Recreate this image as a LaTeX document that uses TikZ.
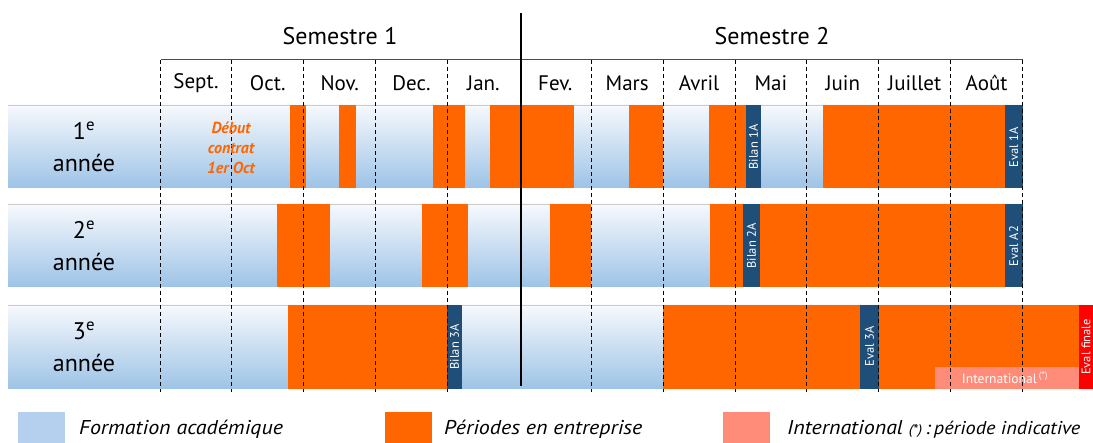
\documentclass[tikz,border=0pt]{standalone}
\usepackage{fontspec}
\setmainfont{PT Sans}
\newfontfamily\legendefont[FakeStretch=1.1]{PT Sans}
\usetikzlibrary{positioning}

\definecolor{entreprise}{HTML}{FF6600}
\definecolor{bilan}{HTML}{1F4E79}
\definecolor{bandhaut}{HTML}{F7F9FD}
\definecolor{bandbas}{HTML}{9DC3E6}
\definecolor{academique}{HTML}{B4D0EE}
\definecolor{international}{HTML}{FF8C78}
\definecolor{finale}{HTML}{FF0000}

\tikzset{
    semestre/.style={font=\fontsize{24}{24}\selectfont},
    mois/.style={font=\fontsize{21}{21}\selectfont},
    annee/.style={align=center, font=\fontsize{24}{32}\selectfont},
    jalon/.style={rotate=90, text=white, inner sep=0pt, font=\fontsize{12.5}{12.5}\selectfont},
    debut/.style={align=center, text=entreprise, font=\fontsize{16}{20}\selectfont\bfseries\itshape},
    legende/.style={anchor=west, inner sep=0pt, font=\legendefont\fontsize{20}{20}\selectfont\itshape},
}

\begin{document}
\begin{tikzpicture}[x=1pt, y=-1pt]
        \useasboundingbox (0,0) rectangle (1093,443);

        % bandes des trois annees
        \foreach \t/\b in {105/188, 204/287, 305/389}
        {
        \shade[top color=bandhaut, bottom color=bandbas] (8,\t) rectangle (1022.5,\b);
        \draw[black!20] (8,\t) -- (1022.5,\t);
        }

        % periodes en entreprise
        \foreach \g/\d/\t/\b in {290/306/105/188, 339/356/105/188, 433/465/105/188,
            490/574/105/188, 629/663/105/188, 709/746/105/188, 823/1005/105/188,
            277/330/204/287, 422/468/204/287, 550/591/204/287, 710/743/204/287,
            760/1005/204/287,
            288/447/305/389, 662.5/860/305/389, 879/1079/305/389}
        \fill[entreprise] (\g,\t) rectangle (\d,\b);

        % bilans et evaluations
        \foreach \g/\d/\t/\b in {746/761/105/188, 1005/1022.5/105/188,
            743/760/204/287, 1005/1022.5/204/287,
            447/462/305/389, 860/879/305/389}
        \fill[bilan] (\g,\t) rectangle (\d,\b);
        \fill[finale] (1079,305) rectangle (1093,389);
        \fill[international] (935,367) rectangle (1079,389);

        % en-tete
        \node[semestre] (semestre 1) at (340,36) {Semestre 1};
        \node[semestre] (semestre 2) at (772,36) {Semestre 2};
        \draw[black!70] (161,59) -- (1022.5,59);

        \foreach \m [count=\i] in {Sept., Oct., Nov., Dec., Jan., Fev., Mars, Avril, Mai, Juin, Juillet, Août}
        \node[mois] (mois \i) at ({160+71.875*(\i-0.5)},83) {\m};

        \foreach \i in {0,1,2,3,4,6,7,8,9,10,11,12}
        \draw[line width=0.8pt, dash pattern=on 4pt off 3pt] ({160+71.875*\i},60) -- ({160+71.875*\i},392);

        \coordinate (milieu haut) at (520.5,13);
        \coordinate (milieu bas) at (520.5,386);
        \draw[line width=2pt] (milieu haut) -- (milieu bas);

        % annees
        \node[annee] (annee 1) at (84,147) {1\textsuperscript{e}\\année};
        \node[annee] (annee 2) at (84,246) {2\textsuperscript{e}\\année};
        \node[annee] (annee 3) at (84,347) {3\textsuperscript{e}\\année};

        \node[debut] (debut) at (231,148) {Début\\contrat\\1er Oct};

        \node[jalon] (bilan 1A) at (753.5,147) {Bilan 1A};
        \node[jalon] (eval 1A) at (1013.75,147) {Eval 1A};
        \node[jalon] (bilan 2A) at (751.5,246) {Bilan 2A};
        \node[jalon] (eval A2) at (1013.75,246) {Eval A2};
        \node[jalon] (bilan 3A) at (454.5,347) {Bilan 3A};
        \node[jalon] (eval 3A) at (869.5,346) {Eval 3A};
        \node[jalon] (eval finale) at (1086,347) {Eval finale};
        \node[text=white, inner sep=0pt, font=\fontsize{13.5}{13.5}\selectfont] (international) at (1005,378)
            {International\,\textsuperscript{(*)}};

        % legende
        \fill[academique] (18,412) rectangle (65,443);
        \fill[entreprise] (385,412) rectangle (432,443);
        \fill[international] (723,412) rectangle (770,443);
        \node[legende] (legende 1) at (79,429) {Formation académique};
        \node[legende] (legende 2) at (444,429) {Périodes en entreprise};
        \node[legende] (legende 3) at (787,429)
            {International {\fontsize{14}{14}\selectfont(*)}\,{\fontsize{18.5}{18.5}\selectfont:\,période indicative}};
\end{tikzpicture}
\end{document}
